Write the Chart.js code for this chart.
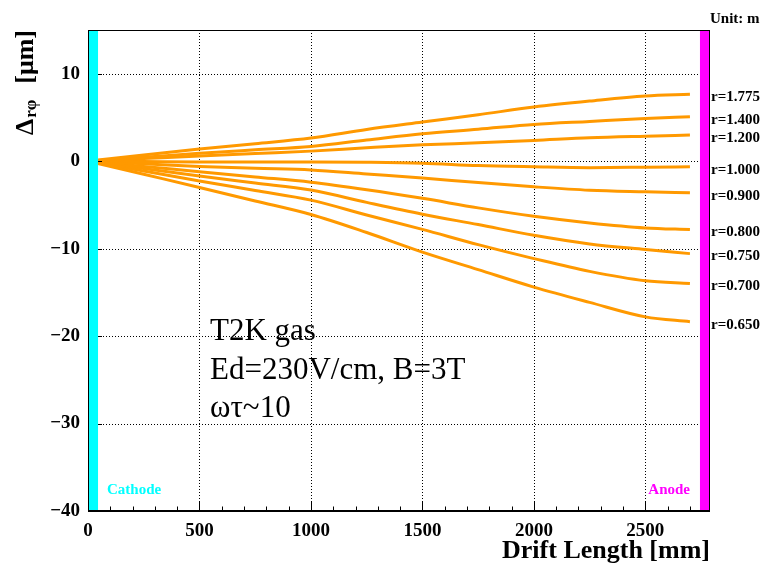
<!DOCTYPE html>
<html>
<head>
<meta charset="utf-8">
<script src="https://cdn.jsdelivr.net/npm/chart.js@4.4.0/dist/chart.umd.min.js"></script>
<style>
  html, body { margin: 0; padding: 0; background: #fff; }
  #wrap { width: 764px; height: 566px; }
</style>
</head>
<body>
<div id="wrap"><canvas id="c" width="764" height="566"></canvas></div>
<script>
// drift distance samples [mm]
const driftX = [0, 250, 500, 750, 1000, 1250, 1500, 1750, 2000, 2250, 2500, 2700];

// r-phi distortion [um] for each radius [m]
const radii = ['r=1.775', 'r=1.400', 'r=1.200', 'r=1.000', 'r=0.900', 'r=0.800', 'r=0.750', 'r=0.700', 'r=0.650'];
const r1775 = [0, 0.70, 1.40, 2.00, 2.64, 3.63, 4.48, 5.31, 6.19, 6.87, 7.45, 7.64];
const r1400 = [0, 0.45, 0.90, 1.30, 1.69, 2.42, 3.14, 3.65, 4.20, 4.55, 4.89, 5.09];
const r1200 = [0, 0.30, 0.60, 0.88, 1.15, 1.53, 1.87, 2.10, 2.37, 2.68, 2.86, 2.98];
const r1000 = [0, -0.05, -0.10, -0.10, -0.08, -0.12, -0.23, -0.50, -0.64, -0.74, -0.69, -0.64];
const r0900 = [0, -0.30, -0.60, -0.82, -1.00, -1.46, -1.92, -2.45, -2.93, -3.32, -3.50, -3.62];
const r0800 = [0, -0.60, -1.20, -1.80, -2.40, -3.26, -4.25, -5.34, -6.30, -7.06, -7.63, -7.82];
const r0750 = [0, -0.85, -1.70, -2.50, -3.30, -4.71, -6.06, -7.25, -8.47, -9.46, -10.10, -10.57];
const r0700 = [0, -1.12, -2.26, -3.35, -4.45, -6.15, -7.80, -9.54, -11.14, -12.60, -13.67, -14.00];
const r0650 = [0, -1.50, -3.00, -4.55, -6.10, -8.16, -10.40, -12.40, -14.40, -16.15, -17.80, -18.35];
const series = [r1775, r1400, r1200, r1000, r0900, r0800, r0750, r0700, r0650];

const xTicks = [0, 500, 1000, 1500, 2000, 2500];
const yTicks = [-40, -30, -20, -10, 0, 10];
const cathodeBand = [0, 45];
const anodeBand = [2745, 2790];
const infoLines = ['T2K gas', 'Ed=230V/cm, B=3T', 'ωτ~10'];

const ORANGE = '#ff9900';
const CYAN = '#00ffff';
const MAGENTA = '#ff00ff';
const SERIF = '"Liberation Serif", "DejaVu Serif", serif';

const decor = {
  id: 'decor',
  beforeDatasetsDraw(chart) {
    // dotted grid at the major ticks
    const { ctx, chartArea: a, scales: { x, y } } = chart;
    ctx.save();
    ctx.strokeStyle = '#000';
    ctx.lineWidth = 1;
    ctx.setLineDash([1, 2]);
    ctx.beginPath();
    xTicks.filter(v => v > 0).forEach(v => {
      const px = Math.round(x.getPixelForValue(v)) + 0.5;
      ctx.moveTo(px, a.top);
      ctx.lineTo(px, a.bottom);
    });
    yTicks.filter(v => v > -40).forEach(v => {
      const py = Math.round(y.getPixelForValue(v)) + 0.5;
      ctx.moveTo(a.left, py);
      ctx.lineTo(a.right, py);
    });
    ctx.stroke();
    ctx.restore();
  },
  afterDatasetsDraw(chart) {
    const { ctx, chartArea: a, scales: { x, y } } = chart;
    ctx.save();

    // inward tick marks
    ctx.strokeStyle = '#000';
    ctx.lineWidth = 1;
    ctx.beginPath();
    for (let v = 0; v <= 2700; v += 100) {
      const px = Math.round(x.getPixelForValue(v)) + 0.5;
      const len = v % 500 === 0 ? 9 : 4.5;
      ctx.moveTo(px, a.bottom);
      ctx.lineTo(px, a.bottom - len);
    }
    for (let v = -40; v <= 14; v += 2) {
      const py = Math.round(y.getPixelForValue(v)) + 0.5;
      const len = v % 10 === 0 ? 14 : 7;
      ctx.moveTo(a.left, py);
      ctx.lineTo(a.left + len, py);
    }
    ctx.stroke();

    // electrode bands
    const band = (range, color) => {
      const x0 = x.getPixelForValue(range[0]);
      const x1 = x.getPixelForValue(range[1]);
      ctx.fillStyle = color;
      ctx.fillRect(x0, a.top, x1 - x0, a.bottom - a.top);
    };
    band(cathodeBand, CYAN);
    band(anodeBand, MAGENTA);

    // frame
    ctx.strokeStyle = '#000';
    ctx.lineWidth = 1;
    ctx.strokeRect(a.left + 0.5, a.top + 0.5, a.right - a.left - 1, a.bottom - a.top - 1);
    ctx.lineWidth = 2;
    ctx.beginPath();
    ctx.moveTo(a.left, a.bottom);
    ctx.lineTo(a.right, a.bottom);
    ctx.stroke();

    // electrode names
    ctx.font = 'bold 15px ' + SERIF;
    ctx.textBaseline = 'alphabetic';
    ctx.fillStyle = CYAN;
    ctx.textAlign = 'left';
    ctx.fillText('Cathode', a.left + 19, 494);
    ctx.fillStyle = MAGENTA;
    ctx.textAlign = 'right';
    ctx.fillText('Anode', x.getPixelForValue(anodeBand[0]) - 10, 494);

    // radius labels at the end of each curve
    ctx.fillStyle = '#000';
    ctx.textAlign = 'left';
    ctx.textBaseline = 'middle';
    series.forEach((s, i) => {
      const py = y.getPixelForValue(s[s.length - 1]) + 3;
      ctx.fillText(radii[i], a.right + 1, py);
    });
    ctx.textBaseline = 'alphabetic';
    ctx.fillText('Unit: m', a.right, 23);

    // gas conditions
    ctx.font = '31px ' + SERIF;
    infoLines.forEach((t, i) => ctx.fillText(t, 210, 340 + i * 38.5));

    // x title
    ctx.font = 'bold 26px ' + SERIF;
    ctx.textAlign = 'right';
    ctx.fillText('Drift Length [mm]', a.right, 558);

    // y title, rotated
    ctx.translate(33, 135);
    ctx.rotate(-Math.PI / 2);
    ctx.textAlign = 'left';
    ctx.font = 'bold 26px ' + SERIF;
    ctx.fillText('Δ', 0, 0);
    const dw = ctx.measureText('Δ').width;
    ctx.font = 'bold 17px ' + SERIF;
    ctx.fillText('rφ', dw + 1, 3);
    ctx.font = 'bold 26px ' + SERIF;
    ctx.textAlign = 'right';
    ctx.fillText('[μm]', 105, 0);

    ctx.restore();
  }
};

new Chart(document.getElementById('c'), {
  type: 'line',
  data: {
    datasets: series.map((s, i) => ({
      label: radii[i],
      data: driftX.map((d, k) => ({ x: d, y: s[k] })),
      borderColor: ORANGE,
      borderWidth: 3,
      pointRadius: 0,
      cubicInterpolationMode: 'monotone',
      fill: false,
    })),
  },
  options: {
    responsive: false,
    animation: false,
    devicePixelRatio: 1,
    layout: { padding: { top: 30, right: 54, left: 0, bottom: 0 } },
    plugins: { legend: { display: false }, tooltip: { enabled: false } },
    scales: {
      x: {
        type: 'linear',
        min: 0,
        max: 2790,
        afterBuildTicks: s => { s.ticks = xTicks.map(v => ({ value: v })); },
        afterFit: s => { s.height = 55; },
        border: { display: false },
        grid: { display: false, drawTicks: false },
        ticks: {
          padding: 9,
          maxRotation: 0,
          color: '#000',
          font: { family: SERIF, size: 19, weight: 'bold' },
          callback: v => String(v),
        },
      },
      y: {
        type: 'linear',
        min: -40,
        max: 15,
        afterBuildTicks: s => { s.ticks = yTicks.map(v => ({ value: v })); },
        afterFit: s => { s.width = 88; },
        border: { display: false },
        grid: { display: false, drawTicks: false },
        ticks: {
          padding: 8,
          color: '#000',
          font: { family: SERIF, size: 19, weight: 'bold' },
          callback: v => (v < 0 ? '\u2212' + Math.abs(v) : String(v)),
        },
      },
    },
  },
  plugins: [decor],
});
</script>
</body>
</html>
